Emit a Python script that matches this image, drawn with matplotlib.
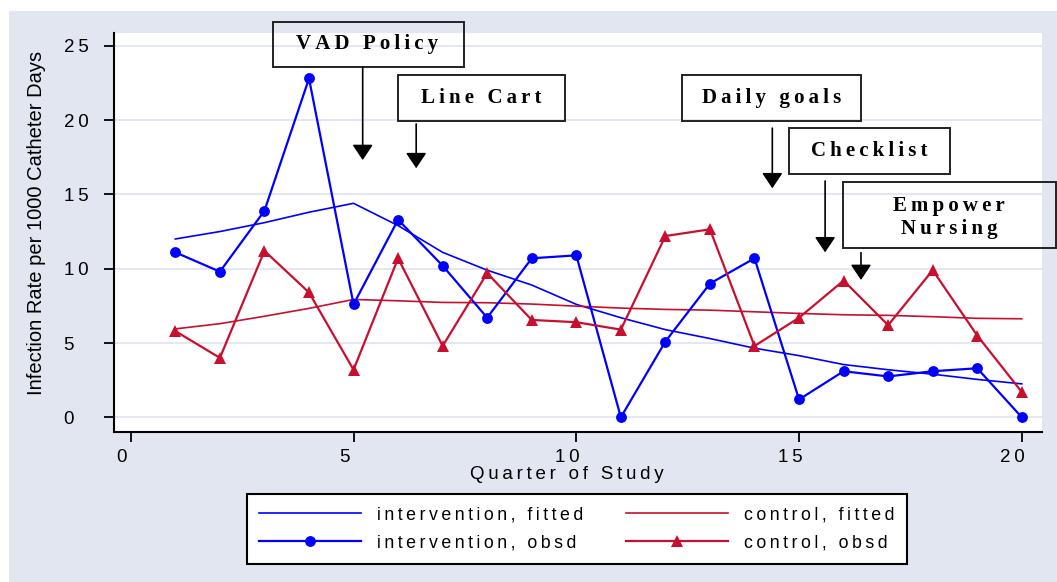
import matplotlib
matplotlib.use("Agg")
import matplotlib.pyplot as plt
from matplotlib.patches import Rectangle, FancyArrowPatch, ArrowStyle
import matplotlib.transforms as mtransforms

# ---------------- data ----------------
quarters = list(range(1, 21))
intervention_obsd = [11.1, 9.8, 13.9, 22.8, 7.6, 13.3, 10.2, 6.7, 10.7, 10.9,
                     0.0, 5.1, 9.0, 10.7, 1.2, 3.1, 2.75, 3.1, 3.3, 0.0]
intervention_fitted = [12.0, 12.5, 13.1, 13.8, 14.4, 12.9, 11.1, 9.9, 8.9, 7.6,
                       6.7, 5.9, 5.3, 4.65, 4.15, 3.55, 3.2, 2.9, 2.55, 2.25]
control_obsd = [5.8, 4.0, 11.2, 8.4, 3.2, 10.7, 4.8, 9.7, 6.55, 6.4,
                5.9, 12.2, 12.65, 4.8, 6.7, 9.2, 6.2, 9.9, 5.5, 1.7]
control_fitted = [5.95, 6.3, 6.8, 7.33, 7.93, 7.84, 7.73, 7.71, 7.62, 7.48,
                  7.35, 7.26, 7.21, 7.1, 6.99, 6.9, 6.86, 6.77, 6.66, 6.63]

legend_labels = ["intervention, fitted", "intervention, obsd",
                 "control, fitted", "control, obsd"]
x_ticks = [0, 5, 10, 15, 20]
y_ticks = [0, 5, 10, 15, 20, 25]
x_label = "Quarter of Study"
y_label = "Infection Rate per 1000 Catheter Days"

# annotations: text, box (x0, x1, y0, y1), text (x, y), arrow (x, y_from, y_to)
annot_texts = ["VAD Policy", "Line Cart", "Daily goals", "Checklist", "Empower\nNursing"]
annot_boxes = [(3.20, 7.48, 23.57, 26.62), (6.00, 9.74, 19.96, 23.03),
               (12.38, 16.40, 19.96, 23.03), (14.78, 18.39, 16.37, 19.46),
               (15.98, 20.77, 11.37, 15.81)]
annot_textpos = [(5.30, 25.10), (7.87, 21.50), (14.39, 21.50), (16.58, 17.92), (18.37, 13.45)]
annot_arrows = [(5.205, 23.57, 17.31), (6.406, 19.74, 16.76), (14.40, 19.46, 15.41),
                (15.585, 15.90, 11.10), (16.39, 11.08, 9.24)]

BLUE = "#0000FF"
RED = "#C8102E"
BG = "#E1E6F0"
GRID = "#DDE3EF"

W, H = 1057, 582


def spaced(s, sp="\u2009"):
    return "\n".join(sp.join(list(line)) for line in s.split("\n"))


fig = plt.figure(figsize=(W / 100, H / 100), dpi=100)
fig.patch.set_facecolor("white")
fig.patches.append(Rectangle((9 / W, 0), 1 - 9 / W, 1 - 11 / H, transform=fig.transFigure,
                             facecolor=BG, edgecolor="none", zorder=-10))

ax_l, ax_r, ax_t, ax_b = 113.5, 1041.5, 33.3, 431.5
ax = fig.add_axes([ax_l / W, 1 - ax_b / H, (ax_r - ax_l) / W, (ax_b - ax_t) / H])
ax.set_facecolor("white")

# pixel->data mapping inferred from reference: x0=130.8px, 44.55 px/unit; y0=417.3px, 14.86 px/unit
ax.set_xlim((ax_l - 130.8) / 44.55, (ax_r - 130.8) / 44.55)
ax.set_ylim((417.3 - ax_b) / 14.86, (417.3 - ax_t) / 14.86)

for s in ["top", "right"]:
    ax.spines[s].set_visible(False)
for s in ["left", "bottom"]:
    ax.spines[s].set_linewidth(1.5)
    ax.spines[s].set_color("black")

ax.set_yticks(y_ticks)
ax.set_xticks(x_ticks)
ax.yaxis.grid(True, color=GRID, linewidth=1.2)
ax.set_axisbelow(True)

lab_font = dict(family=["Liberation Sans", "DejaVu Sans"], size=13.5)
ax.set_xticklabels([spaced(str(t)) for t in x_ticks], **lab_font)
ax.set_yticklabels([spaced(str(t)) for t in y_ticks], ha="left", **lab_font)
ax.tick_params(axis="both", direction="out", length=7.2, width=1.3, color="black")
ax.tick_params(axis="x", pad=5.5)
ax.tick_params(axis="y", pad=28.8)

offset = mtransforms.ScaledTranslation(-9 / 100, 0, fig.dpi_scale_trans)
for lab in ax.get_xticklabels():
    lab.set_transform(lab.get_transform() + offset)

# lines
ax.plot(quarters, intervention_fitted, color=BLUE, lw=1.2, zorder=3,
        label=spaced(legend_labels[0]))
ax.plot(quarters, intervention_obsd, color=BLUE, lw=1.6, marker="o", ms=7.8,
        markeredgewidth=0, zorder=4, label=spaced(legend_labels[1]))
ax.plot(quarters, control_fitted, color=RED, lw=1.2, zorder=3,
        label=spaced(legend_labels[2]))
ax.plot(quarters, control_obsd, color=RED, lw=1.6, marker="^", ms=8,
        markeredgewidth=0, zorder=4, label=spaced(legend_labels[3]))

# axis labels
fig.text(566.8 / W, 1 - 479 / H, spaced(x_label), ha="center", va="baseline",
         family=["Liberation Sans", "DejaVu Sans"], size=13.5)
fig.text(37 / W, 1 - 223.4 / H, y_label, ha="center", va="center", rotation=90,
         family=["Liberation Sans", "DejaVu Sans"], size=14.5)

# annotations
for txt, (bx0, bx1, by0, by1), (tx, ty), (arx, ay0, ay1) in zip(
        annot_texts, annot_boxes, annot_textpos, annot_arrows):
    ax.add_patch(Rectangle((bx0, by0), bx1 - bx0, by1 - by0, facecolor="none",
                           edgecolor="#222222", lw=1.4, clip_on=False, zorder=6))
    ax.text(tx, ty, spaced(txt), ha="center", va="center", fontweight="bold",
            family=["Liberation Serif", "DejaVu Serif"], size=15, linespacing=1.25,
            zorder=7, clip_on=False)
    arr = FancyArrowPatch((arx, ay0), (arx, ay1),
                          arrowstyle=ArrowStyle("-|>", head_length=9.4, head_width=6.3),
                          mutation_scale=1, color="black", lw=1.2, shrinkA=0, shrinkB=0,
                          clip_on=False, zorder=7)
    ax.add_patch(arr)

# legend
handles, labels = ax.get_legend_handles_labels()
leg = ax.legend(handles, labels, ncol=2, loc="center",
                bbox_to_anchor=(576.8 / W, 1 - 529 / H), bbox_transform=fig.transFigure,
                prop=dict(family=["Liberation Sans", "DejaVu Sans"], size=12.8),
                frameon=True, fancybox=False, edgecolor="black", facecolor="white",
                framealpha=1, handlelength=5.7, handletextpad=0.9, columnspacing=2.45,
                labelspacing=0.6, borderpad=0.7, markerscale=1.0)
leg.get_frame().set_linewidth(1.5)

fig.savefig("out.png", dpi=100)
